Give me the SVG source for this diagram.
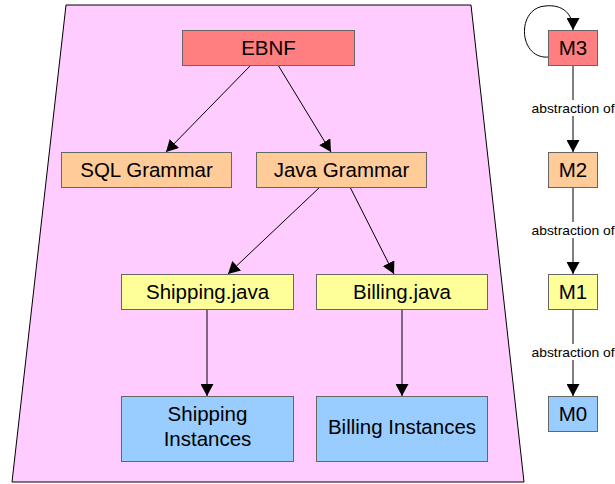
<svg xmlns="http://www.w3.org/2000/svg" width="615" height="484" viewBox="0 0 615 484">
  <style>
    .box { stroke: #666666; stroke-width: 1; }
    .red { fill: #ff7f80; }
    .orange { fill: #ffcc99; }
    .yellow { fill: #ffff99; }
    .blue { fill: #99ccff; }
    .lbl { font-family: "Liberation Sans", Arial, sans-serif; font-size: 20.5px; fill: #000000; text-anchor: middle; }
    .edge { stroke: #000000; stroke-width: 1; fill: none; marker-end: url(#arrow); }
    .elbl { font-family: "Liberation Sans", Arial, sans-serif; font-size: 13px; fill: #000000; text-anchor: middle; }
  </style>
  <defs>
    <marker id="arrow" markerUnits="userSpaceOnUse" markerWidth="12" markerHeight="13" refX="12" refY="6.5" orient="auto">
      <path d="M0,0 L12,6.5 L0,13 z" fill="#000000"/>
    </marker>
  </defs>

  <rect x="0" y="0" width="615" height="484" fill="#ffffff"/>

  <!-- container trapezoid -->
  <polygon id="container" points="66,5 471,5 524,482 12,482" fill="#ffccff" stroke="#000000" stroke-width="1"/>

  <g id="connectors">
    <line class="edge" x1="251" y1="65" x2="166" y2="152"/>
    <line class="edge" x1="278" y1="65" x2="331" y2="152"/>
    <line class="edge" x1="320" y1="187" x2="228" y2="274"/>
    <line class="edge" x1="350" y1="187" x2="394" y2="274"/>
    <line class="edge" x1="207" y1="309" x2="207" y2="396"/>
    <line class="edge" x1="402" y1="309" x2="402" y2="396"/>
    <path class="edge" d="M549,57 C518,60 516,8 545,6 C563,4 573,14 573,30"/>
    <line class="edge" x1="573" y1="65" x2="573" y2="152"/>
    <line class="edge" x1="573" y1="187" x2="573" y2="274"/>
    <line class="edge" x1="573" y1="309" x2="573" y2="396"/>
    <rect x="531" y="100" width="84" height="16" fill="#ffffff"/>
    <text class="elbl" x="573" y="113" textLength="83" lengthAdjust="spacingAndGlyphs">abstraction of</text>
    <rect x="531" y="222" width="84" height="16" fill="#ffffff"/>
    <text class="elbl" x="573" y="235" textLength="83" lengthAdjust="spacingAndGlyphs">abstraction of</text>
    <rect x="531" y="344" width="84" height="16" fill="#ffffff"/>
    <text class="elbl" x="573" y="357" textLength="83" lengthAdjust="spacingAndGlyphs">abstraction of</text>
  </g>

  <g id="ebnf">
    <rect class="box red" x="182.5" y="30.5" width="172" height="35"/>
    <text class="lbl" x="268.5" y="55">EBNF</text>
  </g>
  <g id="sql-grammar">
    <rect class="box orange" x="61.5" y="152.5" width="170" height="35"/>
    <text class="lbl" x="146.5" y="177">SQL Grammar</text>
  </g>
  <g id="java-grammar">
    <rect class="box orange" x="256.5" y="152.5" width="170" height="35"/>
    <text class="lbl" x="341.5" y="177">Java Grammar</text>
  </g>
  <g id="shipping-java">
    <rect class="box yellow" x="121.5" y="274.5" width="172" height="35"/>
    <text class="lbl" x="207.5" y="299">Shipping.java</text>
  </g>
  <g id="billing-java">
    <rect class="box yellow" x="316.5" y="274.5" width="171" height="35"/>
    <text class="lbl" x="402" y="299">Billing.java</text>
  </g>
  <g id="shipping-instances">
    <rect class="box blue" x="121.5" y="396.5" width="172" height="65"/>
    <text class="lbl" x="207.5" y="421">Shipping</text>
    <text class="lbl" x="207.5" y="446">Instances</text>
  </g>
  <g id="billing-instances">
    <rect class="box blue" x="316.5" y="396.5" width="171" height="65"/>
    <text class="lbl" x="402" y="434">Billing Instances</text>
  </g>

  <g id="m3">
    <rect class="box red" x="548.5" y="30.5" width="49" height="35"/>
    <text class="lbl" x="573" y="55">M3</text>
  </g>
  <g id="m2">
    <rect class="box orange" x="548.5" y="152.5" width="49" height="35"/>
    <text class="lbl" x="573" y="177">M2</text>
  </g>
  <g id="m1">
    <rect class="box yellow" x="548.5" y="274.5" width="49" height="35"/>
    <text class="lbl" x="573" y="299">M1</text>
  </g>
  <g id="m0">
    <rect class="box blue" x="548.5" y="396.5" width="49" height="35"/>
    <text class="lbl" x="573" y="421">M0</text>
  </g>
</svg>
